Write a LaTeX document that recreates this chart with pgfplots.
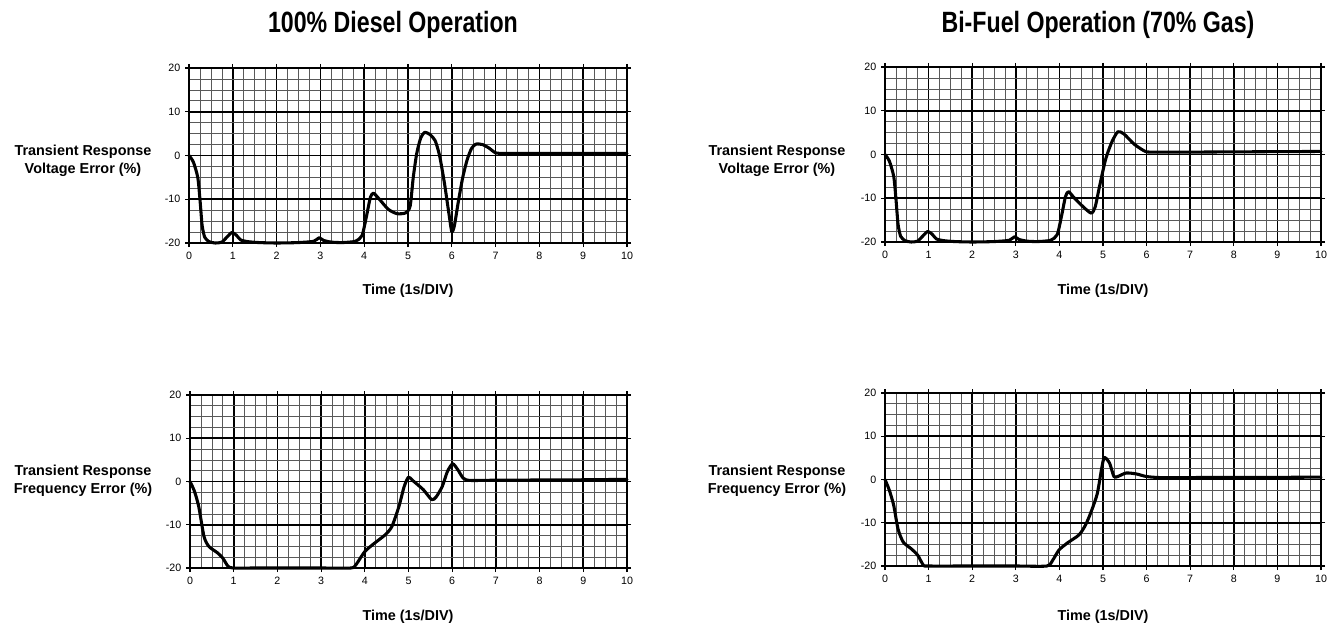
\documentclass[border=0pt]{standalone}
\usepackage{fontspec}
\setmainfont{Liberation Sans}
\usepackage{graphicx}
\usepackage{pgfplots}
\pgfplotsset{compat=1.18}
\pgfplotsset{panel/.style={
  scale only axis, anchor=south west,
  xmin=0, xmax=10, ymin=-20, ymax=20,
  xtick={0,1,...,10}, ytick={-20,-10,0,10,20},
  minor x tick num=3, minor y tick num=3,
  grid=both,
  major grid style={black, line width=1.25pt},
  minor grid style={black!65, line width=0.5pt},
  axis line style={black, line width=1.2pt},
  tick align=outside, major tick length=3pt, minor tick length=0pt,
  tick style={black, line width=0.8pt},
  ticklabel style={font=\fontsize{8}{9}\selectfont},
  /pgf/number format/assume math mode=true,
  clip=false,
}}
\tikzset{curve/.style={black, line width=2.3pt, smooth, tension=0.4, line join=round, line cap=round}}
\begin{document}
\begin{tikzpicture}[x=0.75pt, y=0.75pt]
\path (0,0) rectangle (1336,625);
% titles
\node[font=\fontsize{22}{26}\selectfont\bfseries] at (393,600) {\scalebox{0.79}[1]{100\% Diesel Operation}};
\node[font=\fontsize{22}{26}\selectfont\bfseries] at (1098,600) {\scalebox{0.79}[1]{Bi-Fuel Operation (70\% Gas)}};
% y labels
\node[align=center, font=\fontsize{10.8}{13.5}\selectfont\bfseries] at (83,464) {Transient Response\\Voltage Error (\%)};
\node[align=center, font=\fontsize{10.8}{13.5}\selectfont\bfseries] at (777,464) {Transient Response\\Voltage Error (\%)};
\node[align=center, font=\fontsize{10.8}{13.5}\selectfont\bfseries] at (83,144) {Transient Response\\Frequency Error (\%)};
\node[align=center, font=\fontsize{10.8}{13.5}\selectfont\bfseries] at (777,144) {Transient Response\\Frequency Error (\%)};
% x labels
\node[font=\fontsize{10.8}{13}\selectfont\bfseries] at (408,334) {Time (1s/DIV)};
\node[font=\fontsize{10.8}{13}\selectfont\bfseries] at (1103,334) {Time (1s/DIV)};
\node[font=\fontsize{10.8}{13}\selectfont\bfseries] at (408,8) {Time (1s/DIV)};
\node[font=\fontsize{10.8}{13}\selectfont\bfseries] at (1103,8) {Time (1s/DIV)};

% Top-left
\begin{axis}[panel, at={(141.75pt,286.5pt)}, width=328.5pt, height=131.25pt]
\addplot[curve] coordinates {
(0,0) (0.1,-1.5) (0.2,-5) (0.25,-10) (0.3,-16) (0.36,-18.7) (0.46,-19.7) (0.6,-20) (0.75,-19.8) (0.87,-18.6) (0.98,-17.6) (1.08,-18.2) (1.18,-19.3) (1.35,-19.7) (1.6,-19.9) (2,-20) (2.5,-19.9) (2.85,-19.6) (2.97,-18.8) (3.07,-19.4) (3.25,-19.8) (3.5,-19.9) (3.8,-19.6) (3.95,-18.3) (4.05,-14) (4.14,-9.6) (4.21,-8.6) (4.33,-9.8) (4.55,-12.3) (4.75,-13.3) (4.95,-13.1) (5.05,-11.5) (5.12,-5) (5.2,0.5) (5.29,4) (5.38,5.3) (5.5,4.8) (5.62,3.4) (5.72,0) (5.83,-6.2) (5.93,-13) (6.0,-17.4) (6.06,-16) (6.15,-10.5) (6.25,-5) (6.35,-1) (6.45,1.6) (6.55,2.6) (6.7,2.5) (6.85,1.7) (7.0,0.6) (7.2,0.5) (8,0.5) (9,0.5) (10,0.5)};
\end{axis}

% Top-right
\begin{axis}[panel, at={(663.75pt,287.25pt)}, width=327pt, height=131.25pt]
\addplot[curve] coordinates {
(0,0) (0.1,-1.5) (0.2,-5) (0.25,-10) (0.3,-16) (0.36,-18.7) (0.46,-19.7) (0.6,-20) (0.75,-19.8) (0.87,-18.6) (0.98,-17.6) (1.08,-18.2) (1.18,-19.3) (1.35,-19.7) (1.6,-19.9) (2,-20) (2.5,-19.9) (2.85,-19.6) (2.97,-18.8) (3.07,-19.4) (3.25,-19.8) (3.5,-19.9) (3.8,-19.6) (3.95,-18.3) (4.05,-14) (4.14,-9.6) (4.21,-8.5) (4.33,-9.8) (4.55,-12) (4.73,-13.4) (4.82,-12) (4.92,-7.3) (5.06,-1.1) (5.2,2.8) (5.34,5.2) (5.48,4.7) (5.71,2.4) (5.95,0.8) (6.1,0.55) (7,0.55) (8,0.6) (9,0.65) (10,0.7)};
\end{axis}

% Bottom-left
\begin{axis}[panel, at={(142.5pt,42.75pt)}, width=327.75pt, height=129.75pt]
\addplot[curve] coordinates {
(0,0) (0.1,-2.2) (0.2,-5.8) (0.32,-12.7) (0.43,-15) (0.63,-16.5) (0.75,-17.7) (0.87,-19.6) (0.99,-20) (1.5,-20) (2,-20) (3,-20) (3.68,-20) (3.8,-19.2) (4.0,-16.2) (4.23,-14.2) (4.47,-12.3) (4.62,-10.4) (4.78,-5.8) (4.9,-1.2) (5.0,1.0) (5.1,0.2) (5.34,-1.9) (5.53,-4.2) (5.63,-3.6) (5.77,-1.2) (5.89,2.3) (6.01,4.1) (6.13,2.7) (6.25,0.8) (6.4,0.25) (7,0.3) (8,0.35) (9,0.4) (10,0.5)};
\end{axis}

% Bottom-right
\begin{axis}[panel, at={(663.75pt,44.25pt)}, width=327pt, height=129.75pt]
\addplot[curve] coordinates {
(0,0) (0.1,-2.5) (0.2,-6) (0.3,-11.5) (0.42,-14.5) (0.6,-16) (0.75,-17.5) (0.88,-19.8) (1.0,-20) (2,-20) (3,-20) (3.71,-20) (3.85,-18.6) (3.99,-16.3) (4.18,-14.7) (4.45,-12.8) (4.6,-10.5) (4.73,-7.4) (4.87,-3.2) (4.97,2.6) (5.03,5.1) (5.15,3.8) (5.25,0.7) (5.34,0.7) (5.53,1.5) (5.76,1.3) (5.99,0.7) (6.3,0.45) (7,0.45) (8,0.5) (9,0.5) (10,0.55)};
\end{axis}
\end{tikzpicture}
\end{document}
